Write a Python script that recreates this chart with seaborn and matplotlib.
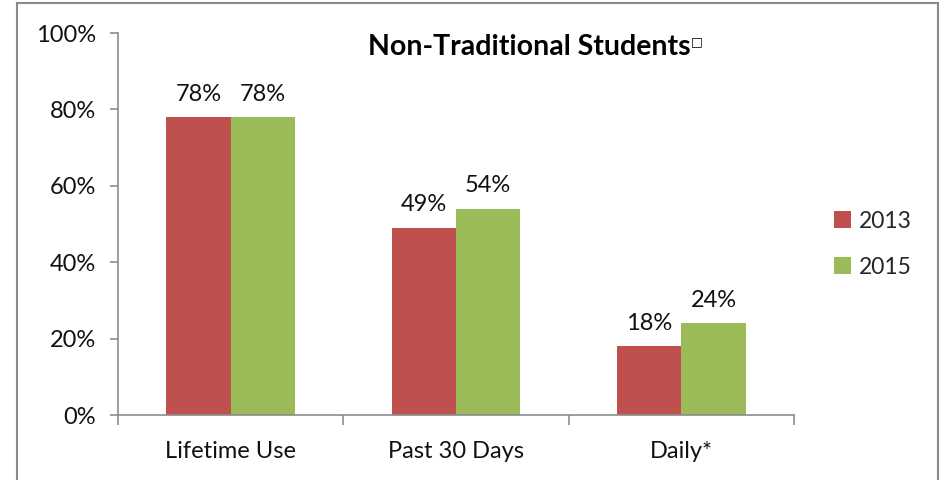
import matplotlib
matplotlib.use("Agg")
import matplotlib.pyplot as plt
import seaborn as sns
import pandas as pd
from matplotlib.patches import Rectangle
from matplotlib.ticker import FuncFormatter

categories = ["Lifetime Use", "Past 30 Days", "Daily*"]
years = ["2013", "2015"]
values_2013 = [78, 49, 18]
values_2015 = [78, 54, 24]
title = "Non-Traditional Students"
yticks = [0, 20, 40, 60, 80, 100]

df = pd.DataFrame({
    "category": categories * 2,
    "year": [years[0]] * 3 + [years[1]] * 3,
    "value": values_2013 + values_2015,
})

sns.set_theme(style="white")
plt.rcParams["font.family"] = ["Lato", "DejaVu Sans"]

fig = plt.figure(figsize=(9.45, 4.8), dpi=100)
ax = fig.add_axes([118 / 945, 1 - 415 / 480, (794 - 118) / 945, (415 - 33) / 480])

palette = {"2013": "#C0504D", "2015": "#9BBB59"}
sns.barplot(data=df, x="category", y="value", hue="year", palette=palette,
            width=0.57, saturation=1, ax=ax, legend=True, linewidth=0)

for cont in ax.containers:
    ax.bar_label(cont, labels=[f"{int(v)}%" for v in cont.datavalues],
                 padding=9, fontsize=17, color="#111111")

ax.set_ylim(0, 100)
ax.set_xlim(-0.5, 2.5)
ax.set_yticks(yticks)
ax.yaxis.set_major_formatter(FuncFormatter(lambda v, p: f"{int(v)}%"))
ax.set_xlabel("")
ax.set_ylabel("")
for s in ["top", "right"]:
    ax.spines[s].set_visible(False)
for s in ["left", "bottom"]:
    ax.spines[s].set_color("#8c8c8c")
    ax.spines[s].set_linewidth(1.2)

ax.set_xticks([-0.5, 0.5, 1.5, 2.5], minor=True)
ax.tick_params(axis="x", which="minor", length=7, color="#8c8c8c", width=1.2, direction="out")
ax.tick_params(axis="x", which="major", length=0, labelsize=17, pad=19, colors="#111111")
ax.tick_params(axis="y", which="major", length=6, color="#8c8c8c", width=1.2,
               direction="out", labelsize=17, pad=10, labelcolor="#111111")
ax.yaxis.set_ticks_position("left")
ax.xaxis.set_ticks_position("bottom")

leg = ax.legend(loc="upper left", bbox_to_anchor=(813 / 945, 1 - 190 / 480),
                bbox_transform=fig.transFigure, frameon=False, fontsize=16.5,
                handlelength=0.75, handleheight=0.75, handletextpad=0.35,
                labelspacing=1.1)

t = fig.text(529 / 945, 1 - 47 / 480, title, ha="center", va="center",
             fontsize=20.5, fontweight="bold", color="#000000")
fig.canvas.draw()
bb = t.get_window_extent()
fig.text((bb.x1 + 1) / 945, 1 - 42 / 480, "\u25a1", ha="left", va="center",
         fontsize=9, fontweight="bold", color="#000000",
         family=["DejaVu Sans"])

fig.patches.append(Rectangle((17 / 945, -0.05), (938 - 17) / 945, 1.05 - 3 / 480,
                             transform=fig.transFigure, fill=False,
                             edgecolor="#8a8a8a", linewidth=1.5))

fig.savefig("out.png", dpi=100)
